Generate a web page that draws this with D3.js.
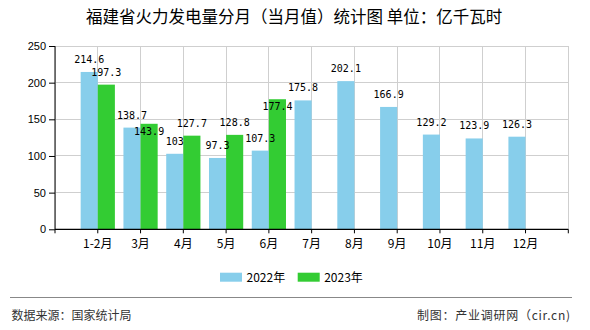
<!DOCTYPE html>
<html><head><meta charset="utf-8">
<script src="https://cdn.jsdelivr.net/npm/d3@7"></script>
<style>
html,body{margin:0;padding:0;background:#fff;}
svg{display:block;}
</style>
</head><body>
<svg id="c" width="590" height="330"></svg>
<script>
const categories = ["1-2月","3月","4月","5月","6月","7月","8月","9月","10月","11月","12月"];
const values2022 = [214.6,138.7,103,97.3,107.3,175.8,202.1,166.9,129.2,123.9,126.3];
const values2023 = [197.3,143.9,127.7,128.8,177.4];
const seriesNames = ["2022年","2023年"];
const seriesColors = ["#87CEEB","#33CC33"];
const yTicks = [0,50,100,150,200,250];
const titleText = "福建省火力发电量分月（当月值）统计图 单位：亿千瓦时";
const sourceText = "数据来源：国家统计局";
const makerText = "制图：产业调研网（cir.cn)";

const svg = d3.select("#c");
const L = 55, R = 568.3, T = 46, B = 229.3;

const x = d3.scalePoint().domain(categories).range([L, R]).padding(1);
const y = d3.scaleLinear().domain([0, 250]).range([B, T]);
const step = x.step();
const bw = step * 0.4;

// title
svg.append("text").attr("x", 86).attr("y", 23)
  .attr("font-family", "'Noto Sans CJK SC', sans-serif").attr("font-size", 16.5)
  .attr("fill", "#000").text(titleText);

// grid
const g = svg.append("g");
const vLines = [L].concat(categories.map(c => x(c))).concat([R]);
g.selectAll("line.hg").data(yTicks.filter(d => d > 0)).enter().append("line")
  .attr("x1", L).attr("x2", R).attr("y1", d => y(d)).attr("y2", d => y(d))
  .attr("stroke", "#cfcfcf").attr("stroke-width", 1).attr("shape-rendering", "crispEdges");
g.selectAll("line.vg").data(vLines).enter().append("line")
  .attr("x1", d => d).attr("x2", d => d).attr("y1", T).attr("y2", B)
  .attr("stroke", "#cfcfcf").attr("stroke-width", 1).attr("shape-rendering", "crispEdges");

// bars
const series = [values2022, values2023];
series.forEach((vals, si) => {
  g.selectAll("rect.s" + si).data(vals).enter().append("rect")
    .attr("x", (d, i) => x(categories[i]) + (si === 0 ? -bw : 0))
    .attr("y", d => y(d))
    .attr("width", bw)
    .attr("height", d => B - y(d))
    .attr("fill", seriesColors[si]);
});

// axes
const yAxis = d3.axisLeft(y).tickValues(yTicks).tickSize(6).tickPadding(3);
const ya = svg.append("g").attr("transform", `translate(${L},0)`).call(yAxis);
ya.select(".domain").attr("stroke", "#000").attr("d", `M0,${T}V${B}`);
ya.selectAll(".tick line").attr("stroke", "#000");
ya.selectAll(".tick text").attr("font-family", "'Liberation Sans', Arial, sans-serif")
  .attr("font-size", 11).attr("fill", "#000");

const xa = svg.append("g");
xa.append("line").attr("x1", L).attr("x2", R).attr("y1", B).attr("y2", B)
  .attr("stroke", "#000").attr("stroke-width", 1.2);
xa.selectAll("line.xt").data(vLines).enter().append("line")
  .attr("x1", d => d).attr("x2", d => d).attr("y1", B).attr("y2", B + 4)
  .attr("stroke", "#000");
xa.selectAll("text").data(categories).enter().append("text")
  .attr("x", d => x(d)).attr("y", 248).attr("text-anchor", "middle")
  .attr("font-family", "'Noto Sans CJK SC', sans-serif").attr("font-size", 12)
  .attr("fill", "#000").text(d => d);

// value labels with simple collision avoidance
const placed = [];
const cw = 6;
const lab = svg.append("g").attr("font-family", "'DejaVu Sans Mono', monospace")
  .attr("font-size", 10).attr("fill", "#000").attr("text-anchor", "middle");
series.forEach((vals, si) => {
  vals.forEach((v, i) => {
    const cx = x(categories[i]) + (si === 0 ? -bw / 2 : bw / 2);
    const top = y(v);
    const txt = String(v);
    const w = txt.length * cw;
    let base = top - 9;
    const box = (b) => ({x0: cx - w / 2, x1: cx + w / 2, y0: b - 8, y1: b});
    const hit = (bx) => placed.some(p => bx.x0 < p.x1 && bx.x1 > p.x0 && bx.y0 < p.y1 && bx.y1 > p.y0);
    if (hit(box(base))) base = top + 11;
    placed.push(box(base));
    lab.append("text").attr("x", cx).attr("y", base).text(txt);
  });
});

// legend
const lg = svg.append("g");
const legX = [220, 297.7];
seriesNames.forEach((n, i) => {
  lg.append("rect").attr("x", legX[i]).attr("y", 272.7).attr("width", 22).attr("height", 9)
    .attr("fill", seriesColors[i]);
  lg.append("text").attr("x", legX[i] + 26.5).attr("y", 282)
    .attr("font-family", "'Noto Sans CJK SC', sans-serif").attr("font-size", 12)
    .attr("fill", "#000").text(n);
});

// footer
svg.append("line").attr("x1", 10).attr("x2", 572).attr("y1", 297.5).attr("y2", 297.5)
  .attr("stroke", "#888").attr("stroke-width", 1);
svg.append("text").attr("x", 11.5).attr("y", 320)
  .attr("font-family", "'Noto Sans CJK SC', sans-serif").attr("font-size", 12)
  .attr("fill", "#333").text(sourceText);
svg.append("text").attr("x", 417).attr("y", 320)
  .attr("textLength", 153).attr("lengthAdjust", "spacing")
  .attr("font-family", "'Noto Sans CJK SC', sans-serif").attr("font-size", 12)
  .attr("fill", "#333").text(makerText);
</script>
</body></html>
